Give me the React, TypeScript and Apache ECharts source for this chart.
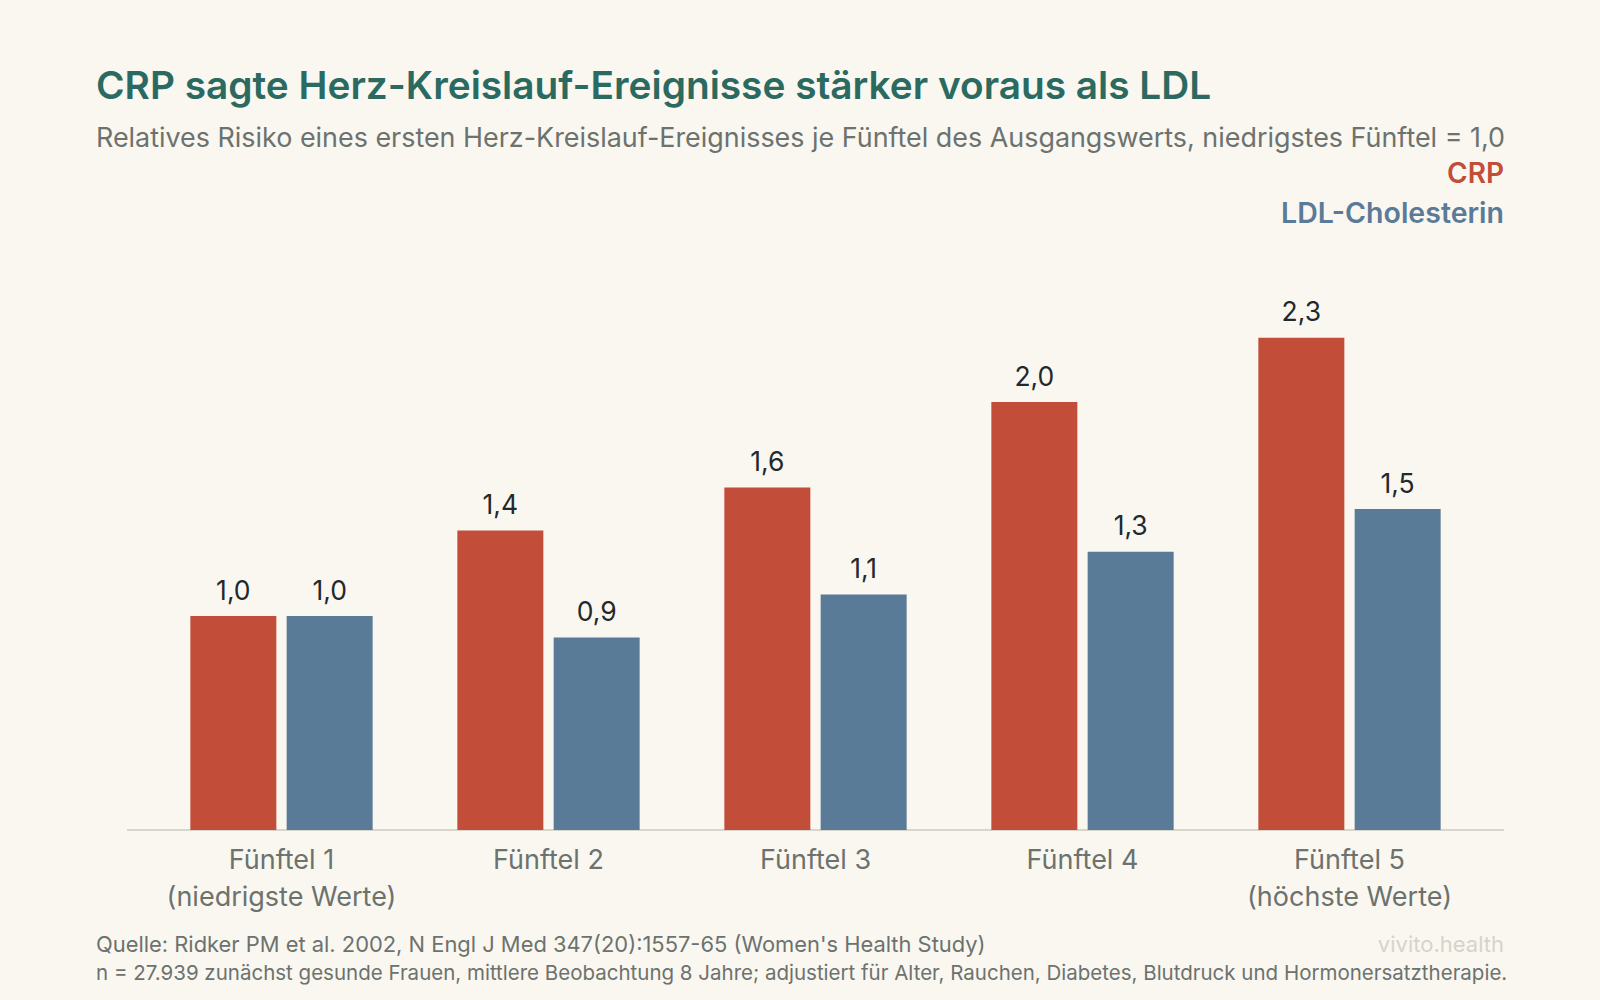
import React, { useEffect, useRef } from "react";
import * as echarts from "echarts";

const categories = ["Fünftel 1\n(niedrigste Werte)", "Fünftel 2", "Fünftel 3", "Fünftel 4", "Fünftel 5\n(höchste Werte)"];
const crpValues = [1.0, 1.4, 1.6, 2.0, 2.3];
const ldlValues = [1.0, 0.9, 1.1, 1.3, 1.5];
const seriesNames = ["CRP", "LDL-Cholesterin"];

const titleText = "CRP sagte Herz-Kreislauf-Ereignisse stärker voraus als LDL";
const subtitleText = "Relatives Risiko eines ersten Herz-Kreislauf-Ereignisses je Fünftel des Ausgangswerts, niedrigstes Fünftel = 1,0";
const sourceText = "Quelle: Ridker PM et al. 2002, N Engl J Med 347(20):1557-65 (Women's Health Study)";
const noteText = "n = 27.939 zunächst gesunde Frauen, mittlere Beobachtung 8 Jahre; adjustiert für Alter, Rauchen, Diabetes, Blutdruck und Hormonersatztherapie.";
const brandText = "vivito.health";

const FONT = "Inter, 'Noto Sans', sans-serif";
const RED = "#c24e3a";
const BLUE = "#5a7b98";
const BG = "#faf7f1";
const GRAY = "#6c726e";

export default function App() {
  const ref = useRef<HTMLDivElement>(null);
  useEffect(() => {
    document.body.style.margin = "0";
    const chart = echarts.init(ref.current!, null, { renderer: "svg" });
    const fmt = (p: any) => String(p.value.toFixed(1)).replace(".", ",");
    chart.setOption({
      animation: false,
      backgroundColor: BG,
      textStyle: { fontFamily: FONT },
      grid: { left: 148, width: 1335, top: 295, bottom: 170 },
      xAxis: {
        type: "category",
        data: categories,
        axisLine: { show: false },
        axisTick: { show: false },
        axisLabel: { interval: 0, color: GRAY, fontSize: 27, lineHeight: 37, margin: 11, fontFamily: FONT },
      },
      yAxis: { type: "value", min: 0, max: 2.5, show: false, splitLine: { show: false } },
      series: [
        {
          name: seriesNames[0], type: "bar", data: crpValues, barWidth: 86, barGap: "12%",
          itemStyle: { color: RED },
          label: { show: true, position: "top", distance: 13, color: "#23292a", fontSize: 26.5, fontFamily: FONT, formatter: fmt },
        },
        {
          name: seriesNames[1], type: "bar", data: ldlValues, barWidth: 86, barGap: "12%",
          itemStyle: { color: BLUE },
          label: { show: true, position: "top", distance: 13, color: "#23292a", fontSize: 26.5, fontFamily: FONT, formatter: fmt },
        },
      ],
      graphic: [
        { type: "line", shape: { x1: 127, y1: 830, x2: 1504, y2: 830 }, style: { stroke: "#d8d5cc", lineWidth: 2 } },
        { type: "text", left: 96, top: 65, style: { text: titleText, fill: "#2b6a60", font: `600 38.8px ${FONT}` } },
        { type: "text", left: 96, top: 123, style: { text: subtitleText, fill: GRAY, font: `26.9px ${FONT}` } },
        { type: "text", right: 96, top: 159, style: { text: seriesNames[0], fill: RED, font: `600 28px ${FONT}`, align: "right" } },
        { type: "text", right: 96, top: 198, style: { text: seriesNames[1], fill: BLUE, font: `600 28.5px ${FONT}`, align: "right" } },
        { type: "text", left: 96, top: 933, style: { text: sourceText, fill: GRAY, font: `21.9px ${FONT}` } },
        { type: "text", left: 96, top: 962, style: { text: noteText, fill: GRAY, font: `20.5px ${FONT}` } },
        { type: "text", right: 96, top: 933, style: { text: brandText, fill: "#d7d3c9", font: `22px ${FONT}`, align: "right" } },
      ],
    });
    return () => chart.dispose();
  }, []);
  return <div ref={ref} style={{ width: 1600, height: 1000 }} />;
}
